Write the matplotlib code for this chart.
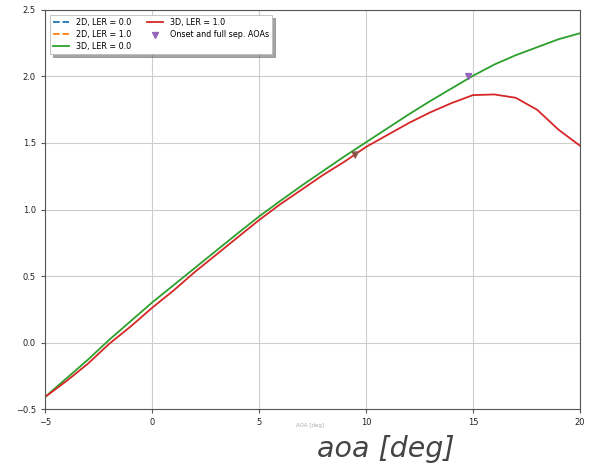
import matplotlib
matplotlib.use("Agg")
import matplotlib.pyplot as plt
import numpy as np

# angle of attack [deg]
aoa = list(range(-5, 21))

# lift curves
cl_3d_ler0 = [-0.41, -0.27, -0.13, 0.02, 0.16, 0.30, 0.43, 0.56, 0.69, 0.82,
              0.947, 1.065, 1.18, 1.29, 1.40, 1.505, 1.61, 1.715, 1.815, 1.91,
              2.005, 2.09, 2.16, 2.22, 2.28, 2.325]
cl_3d_ler1 = [-0.41, -0.29, -0.16, -0.01, 0.12, 0.26, 0.39, 0.53, 0.66, 0.79,
              0.92, 1.04, 1.15, 1.26, 1.36, 1.47, 1.56, 1.65, 1.73, 1.80,
              1.86, 1.865, 1.84, 1.75, 1.60, 1.48]

# separation onset markers
sep_aoa = [14.8, 9.5]
sep_cl = [2.0, 1.41]
sep_colors = ["tab:purple", "tab:brown"]

fig = plt.figure(figsize=(5.96, 4.71), dpi=100)
ax = fig.add_axes([0.0755, 0.1316, 0.8975, 0.8472])

ax.plot([], [], "--", color="tab:blue", lw=1.3, label="2D, LER = 0.0")
ax.plot([], [], "--", color="tab:orange", lw=1.3, label="2D, LER = 1.0")
ax.plot(aoa, cl_3d_ler0, "-", color="tab:green", lw=1.3, label="3D, LER = 0.0")
ax.plot(aoa, cl_3d_ler1, "-", color="tab:red", lw=1.3, label="3D, LER = 1.0")
ax.scatter(sep_aoa, sep_cl, marker="v", c=sep_colors, s=18, zorder=3,
           label="Onset and full sep. AOAs")

ax.set_xlim(-5, 20)
ax.set_ylim(-0.5, 2.5)
ax.set_xticks(np.arange(-5, 21, 5))
ax.set_yticks(np.arange(-0.5, 2.51, 0.5))
ax.grid(True, color="#cccccc", lw=0.8)
ax.tick_params(labelsize=6, length=3, color="#555555", labelcolor="#222222")
for s in ax.spines.values():
    s.set_color("#555555")

leg = ax.legend(loc="upper left", ncol=2, fontsize=5.8, shadow=True,
                fancybox=False, framealpha=1, edgecolor="#bbbbbb",
                borderaxespad=0.6, labelspacing=0.35)
leg.legend_handles[4].set_color("tab:purple")
leg.get_frame().set_linewidth(0.6)

fig.text(0.52, 0.094, "AOA [deg]", fontsize=4, color="#aaaaaa", ha="center")
fig.text(0.648, 0.03, "aoa [deg]", fontsize=20.5, style="italic",
         color="#444444", ha="center")

fig.savefig("out.png", dpi=100)
